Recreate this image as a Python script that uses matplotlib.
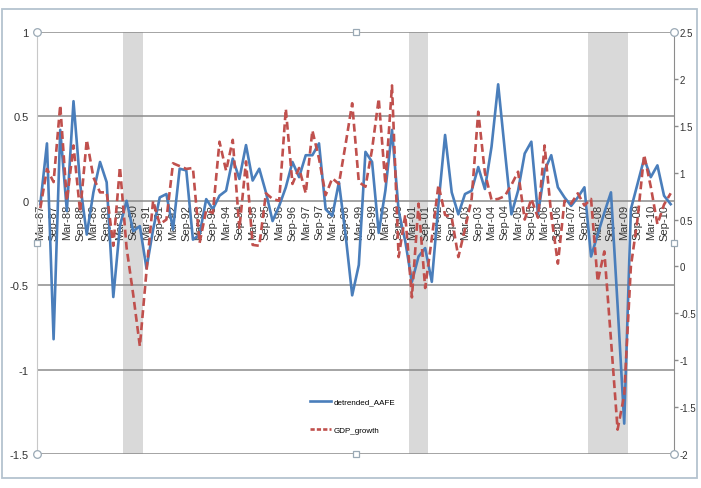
import matplotlib
matplotlib.use('Agg')
import matplotlib.pyplot as plt
from matplotlib.lines import Line2D
from matplotlib.patches import Rectangle


# quarterly categories, Mar-87 .. Dec-10
quarters = [m + '-%02d' % (y % 100) for y in range(1987, 2011)
            for m in ('Mar', 'Jun', 'Sep', 'Dec')]

# detrended_AAFE (left axis)
aafe = [-0.02, 0.34, -0.82, 0.42, -0.06, 0.59, 0.10, -0.20, 0.05, 0.23,
        0.11, -0.57, -0.15, 0.00, -0.18, -0.15, -0.40, -0.17, 0.02, 0.04,
        -0.17, 0.19, 0.18, -0.23, -0.20, 0.01, -0.05, 0.03, 0.06, 0.25,
        0.13, 0.33, 0.12, 0.19, 0.05, -0.12, -0.03, 0.08, 0.23, 0.14,
        0.27, 0.27, 0.34, -0.05, -0.09, 0.11, -0.20, -0.56, -0.38, 0.29,
        0.23, -0.19, 0.06, 0.42, -0.06, -0.24, -0.48, -0.33, -0.28, -0.48,
        -0.02, 0.39, 0.05, -0.08, 0.04, 0.06, 0.20, 0.07, 0.32, 0.69,
        0.30, -0.08, 0.06, 0.28, 0.35, -0.08, 0.18, 0.27, 0.08, 0.02,
        -0.03, 0.02, 0.08, -0.33, -0.20, -0.07, 0.05, -0.62, -1.32, -0.05,
        0.10, 0.25, 0.14, 0.21, 0.03, -0.02]

# GDP_growth (right axis)
gdp = [0.62, 1.04, 0.90, 1.72, 0.70, 1.29, 0.58, 1.35, 0.95, 0.79,
       0.79, 0.22, 1.06, 0.20, -0.30, -0.85, -0.05, 0.70, 0.45, 0.50,
       1.10, 1.07, 1.04, 1.05, 0.25, 0.60, 0.57, 1.33, 1.02, 1.35,
       0.40, 1.12, 0.23, 0.22, 0.78, 0.72, 0.70, 1.68, 0.88, 1.05,
       0.78, 1.45, 1.15, 0.76, 0.94, 0.88, 1.30, 1.74, 0.90, 0.85,
       1.25, 1.79, 0.88, 1.93, 0.10, 0.55, -0.33, 0.67, -0.23, 0.30,
       0.87, 0.55, 0.52, 0.10, 0.40, 0.72, 1.65, 1.00, 0.71, 0.72,
       0.75, 0.87, 1.01, 0.50, 0.72, 0.52, 1.29, 0.55, 0.03, 0.70,
       0.67, 0.78, 0.65, 0.72, -0.16, 0.16, -0.78, -1.74, -1.37, 0.00,
       0.50, 1.19, 0.85, 0.45, 0.66, 0.78]

recessions = [('Jun-90', 'Dec-90'), ('Mar-01', 'Sep-01'), ('Dec-07', 'Mar-09')]

left_ticks = [-1.5, -1, -0.5, 0, 0.5, 1]
right_ticks = [-2, -1.5, -1, -0.5, 0, 0.5, 1, 1.5, 2, 2.5]

plt.rcParams['font.family'] = ['Liberation Sans', 'DejaVu Sans']

W, H = 701, 489
fig = plt.figure(figsize=(W / 100, H / 100), dpi=100)
ax = fig.add_axes([37 / W, 1 - 455 / H, (674 - 37) / W, (455 - 33) / H])
ax2 = ax.twinx()

x = list(range(len(quarters)))
ax.set_xlim(-0.5, len(quarters) - 0.5)
ax.set_ylim(-1.5, 1)
ax2.set_ylim(-2, 2.5)

# recession shading
for start, end in recessions:
    ax.axvspan(quarters.index(start) - 0.5, quarters.index(end) + 0.5,
               color='#d9d9d9', lw=0, zorder=0)

# gridlines
for v in left_ticks:
    ax.axhline(v, color='#8c8c8c', lw=1.1, zorder=1)

ax.plot(x, aafe, color='#4a7ebb', lw=1.9, zorder=3)
ax2.plot(x, gdp, color='#c0504d', lw=1.9, ls=(0, (3.0, 1.6)), zorder=3)

# spines
for s in ('top', 'bottom', 'right'):
    ax.spines[s].set_visible(False)
ax.spines['left'].set_color('#c8c8c8')
for s in ('top', 'bottom', 'left'):
    ax2.spines[s].set_visible(False)
ax2.spines['right'].set_color('#8c8c8c')
ax.spines['bottom'].set_position(('data', 0))

# x labels hang under the zero line
ax.set_xticks(x[::2])
ax.set_xticklabels(quarters[::2], rotation=90, fontsize=8, color='#333333')
ax.tick_params(axis='x', length=0, pad=2)

ax.set_yticks(left_ticks)
ax.set_yticklabels(['%g' % v for v in left_ticks], fontsize=8, color='#333333')
ax.tick_params(axis='y', length=0, pad=6)

ax2.set_yticks(right_ticks)
ax2.set_yticklabels(['%g' % v for v in right_ticks], fontsize=7, color='#333333')
ax2.tick_params(axis='y', length=3, width=1, color='#8c8c8c', pad=1)

# legend
handles = [Line2D([], [], color='#4a7ebb', lw=1.9),
           Line2D([], [], color='#c0504d', lw=1.9, ls=(0, (1.6, 0.8)))]
ax2.legend(handles, ['detrended_AAFE', 'GDP_growth'], loc='center left',
           bbox_to_anchor=((310 - 37) / 637, (455 - 417) / 422),
           frameon=False, fontsize=5.8, labelspacing=2.6,
           handlelength=2.6, handletextpad=0.3, borderpad=0, borderaxespad=0)

# plot area selection handles
for (hx, hy) in [(0, 0), (0, 1), (1, 0), (1, 1)]:
    ax2.plot(hx, hy, 'o', ms=5.5, mfc='white', mec='#9aa9b5', mew=0.9,
             transform=ax2.transAxes, clip_on=False, zorder=5)
for (hx, hy) in [(0.5, 0), (0.5, 1), (0, 0.5), (1, 0.5)]:
    ax2.plot(hx, hy, 's', ms=4.5, mfc='white', mec='#9aa9b5', mew=0.9,
             transform=ax2.transAxes, clip_on=False, zorder=5)

# chart area border
fig.patches.append(Rectangle((1.5 / W, 1 - 478.5 / H), (697 - 1.5) / W, (478.5 - 9.5) / H,
                             transform=fig.transFigure, fill=False,
                             edgecolor='#b4c3cf', lw=1.3))

fig.savefig('out.png', dpi=100)
